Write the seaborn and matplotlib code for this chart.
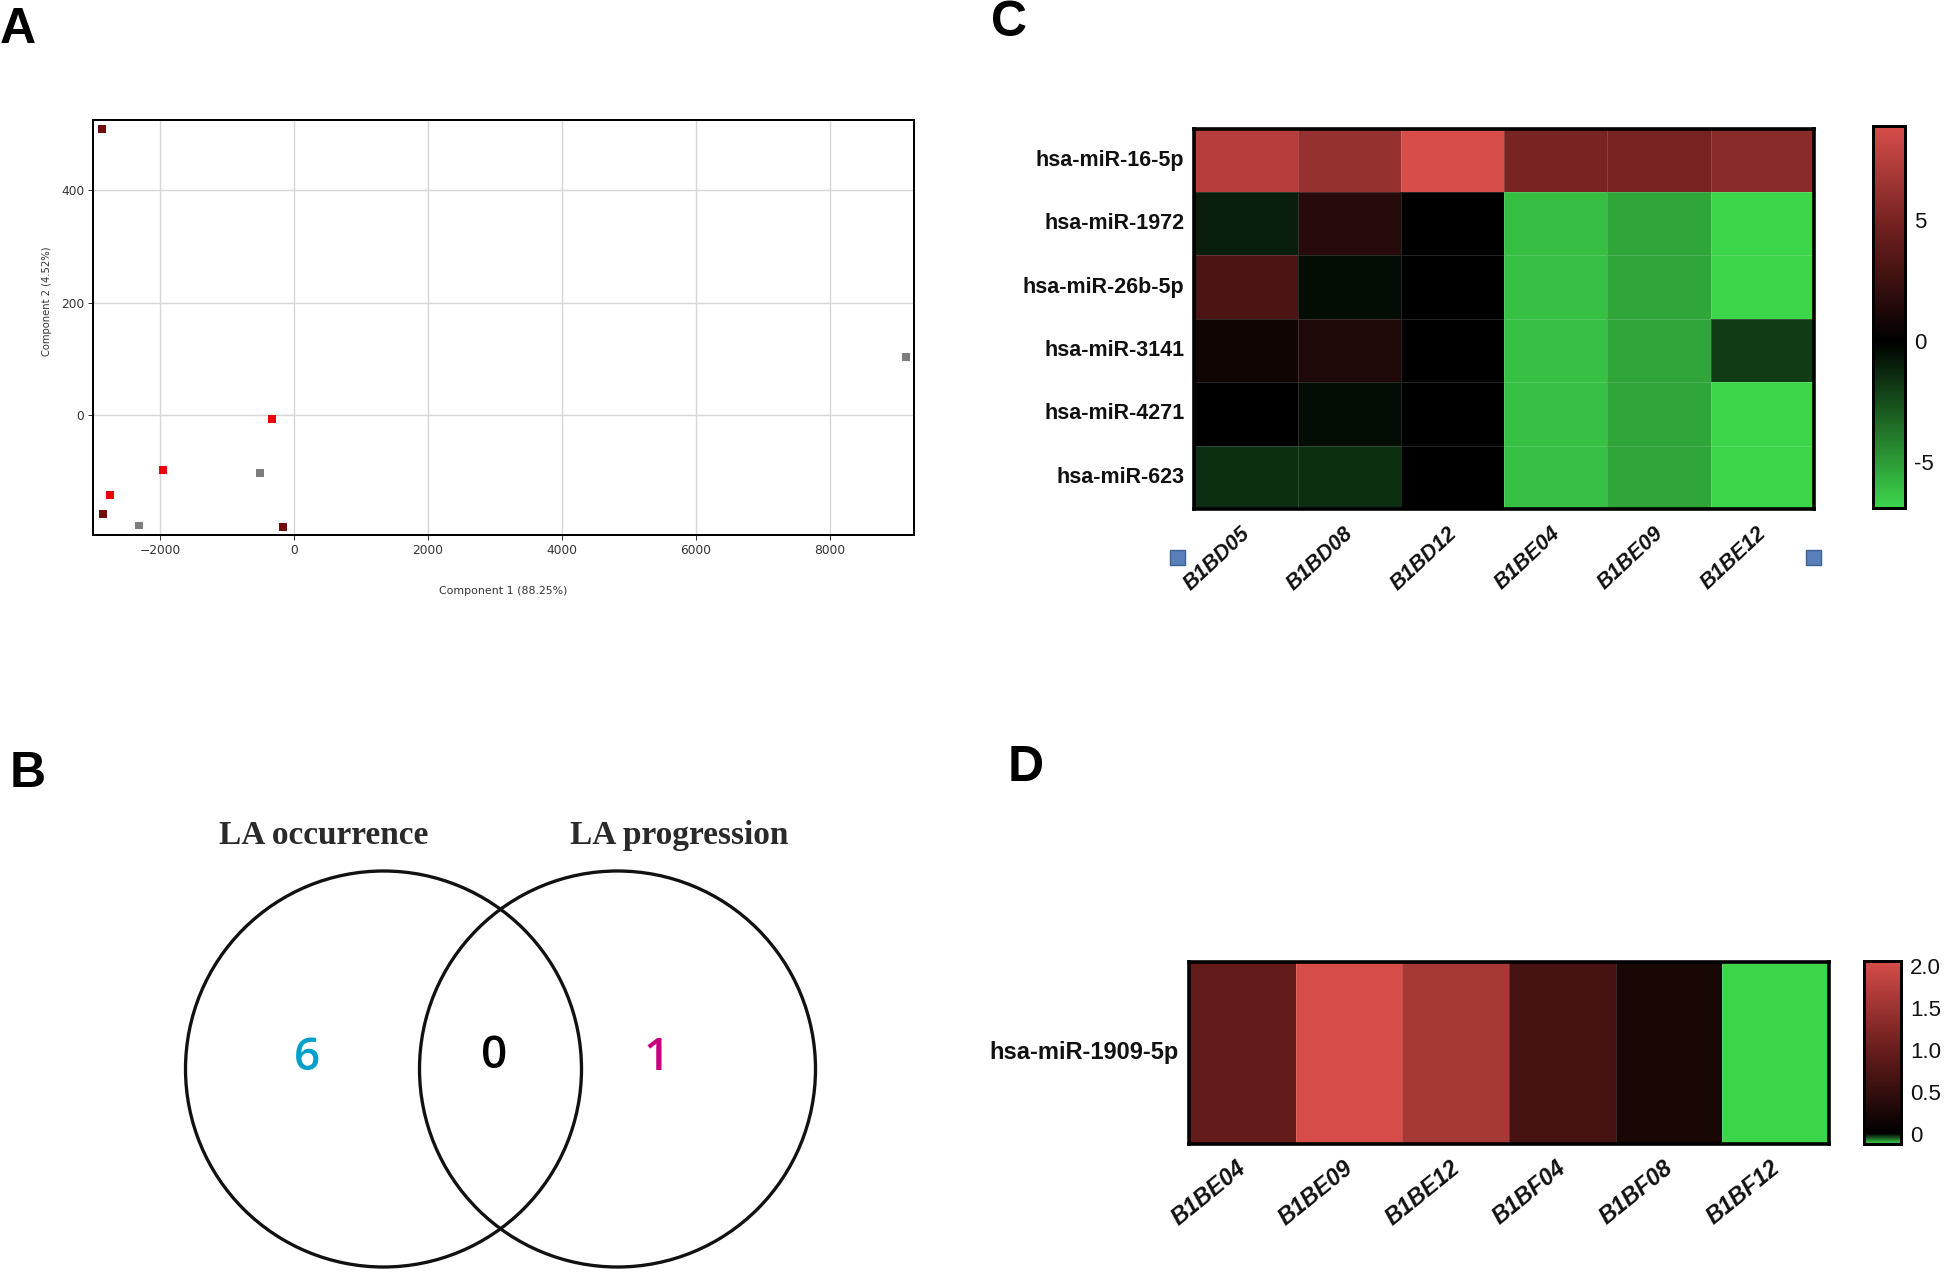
import numpy as np
import pandas as pd
import seaborn as sns
import matplotlib.pyplot as plt
from matplotlib.colors import LinearSegmentedColormap
from matplotlib.patches import Circle, Rectangle
from matplotlib.transforms import ScaledTranslation

# PCA scores (panel A)
pc1_dark = [-2873, -2854, -165]
pc2_dark = [509, -177, -200]
pc1_red = [-329, -1958, -2754]
pc2_red = [-7, -98, -142]
pc1_gray = [-2315, -503, 9140]
pc2_gray = [-197, -104, 103]

# Venn counts (panel B)
venn_titles = ["LA occurrence", "LA progression"]
venn_counts = ["6", "0", "1"]

# Heatmap C
mirnas_c = ["hsa-miR-16-5p", "hsa-miR-1972", "hsa-miR-26b-5p", "hsa-miR-3141", "hsa-miR-4271", "hsa-miR-623"]
samples_c = ["B1BD05", "B1BD08", "B1BD12", "B1BE04", "B1BE09", "B1BE12"]
values_c = [
    [7.5, 6.2, 8.9, 5.0, 4.9, 5.6],
    [-1.0, 1.6, 0.0, -6.1, -5.3, -6.9],
    [3.1, -0.4, 0.0, -6.2, -5.3, -6.9],
    [0.7, 1.3, 0.0, -6.2, -5.3, -1.9],
    [0.0, -0.4, 0.0, -6.2, -5.3, -6.9],
    [-1.5, -1.5, 0.0, -6.2, -5.3, -6.9],
]

# Heatmap D
mirnas_d = ["hsa-miR-1909-5p"]
samples_d = ["B1BE04", "B1BE09", "B1BE12", "B1BF04", "B1BF08", "B1BF12"]
values_d = [[0.96, 2.06, 1.6, 0.67, 0.24, -0.12]]

W, H = 1949, 1272
GREEN, RED, RED_MID = "#3dd64b", "#d64d4a", "#6b1e1c"

sns.set_theme(style="white")
plt.rcParams["font.family"] = ["Liberation Sans", "DejaVu Sans"]


def px_axes(fig, left, top, right, bottom):
    # axes from pixel box, y measured from the top of the image
    return fig.add_axes([left / W, 1 - bottom / H, (right - left) / W, (bottom - top) / H])


def px(v):
    return v * 0.72


def red_green(vmin, vmax):
    mid = -vmin / (vmax - vmin)
    return LinearSegmentedColormap.from_list(
        "rg", [(0, GREEN), (mid, "black"), ((mid + 1) / 2, RED_MID), (1, RED)], N=512)


def draw_heatmap(fig, box, cbar_box, values, rows, cols, vmin, vmax, cticks, cticklabels,
                 ylab_size, xlab_size, xlab_rot, xlab_pad):
    ax = px_axes(fig, *box)
    cax = px_axes(fig, *cbar_box)
    df = pd.DataFrame(values, index=rows, columns=cols)
    sns.heatmap(df, ax=ax, cbar_ax=cax, cmap=red_green(vmin, vmax), vmin=vmin, vmax=vmax,
                linewidths=0.7, linecolor=(1, 1, 1, 0.14))
    for s in ax.spines.values():
        s.set_visible(True)
        s.set_linewidth(px(3.6))
        s.set_color("black")
    ax.set_xlabel("")
    ax.set_ylabel("")
    ax.tick_params(axis="both", length=0)
    ax.tick_params(axis="y", pad=px(10))
    ax.tick_params(axis="x", pad=px(xlab_pad))
    ax.set_yticklabels(rows, rotation=0, fontsize=ylab_size, fontweight="bold", color="#111111")
    ax.set_xticklabels(cols, rotation=xlab_rot, ha="right", va="top", rotation_mode="anchor",
                       fontsize=xlab_size, fontweight="bold", style="italic", color="#111111")
    shift = ScaledTranslation(-6 / 100, 0, fig.dpi_scale_trans)
    for lab in ax.get_xticklabels():
        lab.set_transform(lab.get_transform() + shift)
    # colorbar styling
    cax.set_yticks(cticks)
    cax.set_yticklabels(cticklabels, fontsize=16, color="#111111")
    cax.tick_params(axis="y", left=True, right=True, direction="in", length=px(6), width=px(3),
                    color="black", pad=px(9))
    cbar = ax.collections[0].colorbar
    cbar.outline.set_visible(True)
    cbar.outline.set_linewidth(px(3))
    cbar.outline.set_edgecolor("black")
    return ax


fig = plt.figure(figsize=(W / 100, H / 100), dpi=100, facecolor="white")

# panel letters
for letter, x, y in [("A", 0, 43), ("B", 10, 787), ("C", 991, 36), ("D", 1008, 781)]:
    fig.text(x / W, 1 - y / H, letter, fontsize=36, fontweight="bold", color="black",
             ha="left", va="baseline")

# --- A: PCA scatter ---
ax_a = px_axes(fig, 93.5, 119.5, 914.5, 535)
scores = pd.DataFrame({
    "pc1": pc1_dark + pc1_red + pc1_gray,
    "pc2": pc2_dark + pc2_red + pc2_gray,
    "group": ["dark"] * 3 + ["red"] * 3 + ["gray"] * 3,
})
sns.scatterplot(data=scores, x="pc1", y="pc2", hue="group", ax=ax_a, marker="s", s=32, linewidth=0,
                palette={"dark": "#730a0f", "red": "#eb000a", "gray": "#7d7d7d"}, legend=False, zorder=3)
ax_a.set_xlim(-2994, 9262)
ax_a.set_ylim(-214, 526)
ax_a.set_xticks([-2000, 0, 2000, 4000, 6000, 8000])
ax_a.set_yticks([0, 200, 400])
ax_a.grid(True, color="#d6d6d6", linewidth=px(1.4))
ax_a.set_axisbelow(True)
for s in ax_a.spines.values():
    s.set_visible(True)
    s.set_linewidth(px(2))
    s.set_color("black")
ax_a.tick_params(axis="both", length=px(5), width=px(1), color="#333333", pad=px(4), bottom=True, left=True)
for lab in ax_a.get_xticklabels() + ax_a.get_yticklabels():
    lab.set(family="DejaVu Sans", fontsize=8.8, color="#333333")
ax_a.set_xlabel("")
ax_a.set_ylabel("")
fig.text(503.5 / W, 1 - 591 / H, "Component 1 (88.25%)", family="DejaVu Sans",
         fontsize=7.9, color="#333333", ha="center", va="center")
fig.text(47 / W, 1 - 301 / H, "Component 2 (4.52%)", family="DejaVu Sans", fontsize=7.2,
         color="#333333", rotation=90, ha="center", va="center")

# --- B: Venn ---
ax_b = px_axes(fig, 140, 800, 860, 1272)
ax_b.set_xlim(140, 860)
ax_b.set_ylim(1272, 800)
ax_b.axis("off")
for cx in [383.5, 617.5]:
    ax_b.add_patch(Circle((cx, 1069), 198, fill=False, edgecolor="#111111", linewidth=px(3.3)))
for title, x in zip(venn_titles, [324, 679]):
    ax_b.text(x, 844, title, family="Liberation Serif", fontweight="bold", fontsize=24,
              color="#2a2a2a", ha="center", va="baseline")
for count, x, y, col in zip(venn_counts, [307, 494, 657], [1053, 1051, 1053], ["#00a0c8", "black", "#c8007d"]):
    ax_b.text(x, y, count, family="Open Sans", fontsize=33, fontweight="semibold", color=col,
              ha="center", va="center_baseline")

# --- C: heatmap ---
draw_heatmap(fig, (1194.5, 128.5, 1814, 509), (1873, 126, 1905, 508), values_c, mirnas_c, samples_c,
             -6.9, 8.9, [-5, 0, 5], ["-5", "0", "5"], 15.5, 15.5, 43, 14)
# little blue handles beside the sample labels
for cx in [1178, 1814]:
    fig.add_artist(Rectangle(((cx - 7.5) / W, 1 - 565 / H), 15 / W, 15.5 / H, transform=fig.transFigure,
                             facecolor="#5a80bb", edgecolor="#3e5f96", linewidth=1))

# --- D: heatmap ---
draw_heatmap(fig, (1189, 962, 1829, 1144), (1864, 960.5, 1901, 1144), values_d, mirnas_d, samples_d,
             -0.12, 2.065, [0, 0.5, 1.0, 1.5, 2.0], ["0", "0.5", "1.0", "1.5", "2.0"], 17, 16.8, 39, 12)

fig.savefig("out.png", dpi=100, facecolor="white")
